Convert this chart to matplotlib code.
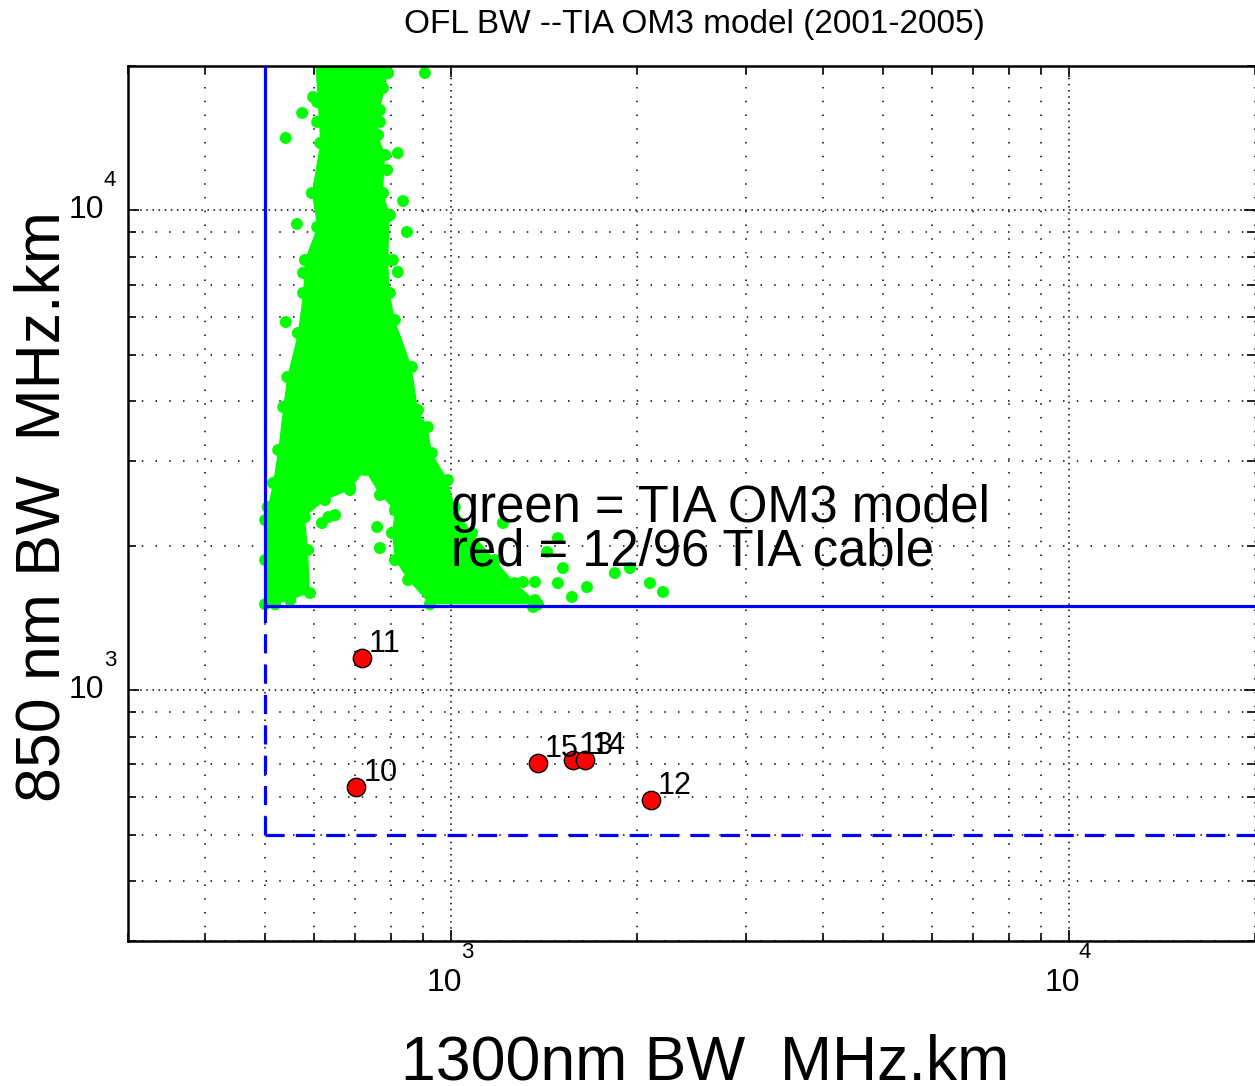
import numpy as np
import matplotlib.pyplot as plt

plt.rcParams['font.family'] = ['Liberation Sans', 'DejaVu Sans']

# TIA OM3 model cloud: outline of the dense core (1300nm BW, 850nm BW)
core_x = [500, 500, 500, 505, 515, 525, 535, 543, 565, 576, 580, 607, 595, 614, 602,
          802, 767, 762, 782, 776, 796, 791, 796, 811, 864, 884, 917, 931, 988, 1014,
          1081, 1178, 1269, 1367, 1382,
          924, 852, 811, 802, 811, 767, 725, 686, 625, 580, 587, 591, 549, 519]
core_y = [1510, 1867, 2262, 2408, 2702, 3167, 3891, 4494, 5551, 6727, 7881, 9236, 10870,
          13820, 21000,
          21000, 16190, 14360, 13050, 10870, 9780, 7881, 6727, 5909, 4716, 3836, 3535,
          3121, 2742, 2408, 2126, 1867, 1672, 1541, 1510,
          1510, 1696, 1867, 2126, 2373, 2551, 2875, 2613, 2490, 2295, 1959, 1594, 1541,
          1510]

# model points lying outside the core
green_x = [907, 791, 776, 598, 607, 574, 607, 767, 540, 820, 788, 836, 788, 563, 848,
           805, 820, 576, 540, 1213, 1489, 1430, 1517, 1489, 1569, 1659, 1841, 1947,
           2098, 2202, 1307, 1367, 924, 759, 767, 618, 633, 649, 686, 753, 842, 1357]
green_y = [19340, 19340, 17990, 17235, 16830, 15960, 15290, 15290, 14160, 13170, 12140,
           10460, 9690, 9370, 9016, 7881, 7440, 7410, 5852, 2230, 2075, 1941, 1797, 1672,
           1564, 1640, 1754, 1797, 1672, 1602, 1680, 1680, 1602, 2188, 1978, 2230, 2295,
           2317, 2651, 2875, 2075, 1490]

# 12/96 TIA cable
cable_id = ['11', '10', '15', '13', '14', '12']
cable_x = [717, 702, 1382, 1574, 1647, 2106]
cable_y = [1167, 628, 705, 715, 715, 590]

# spec limits
bw1300_min = 500
bw850_min = 1500
bw850_lo = 500

xlim = (300, 20000)
ylim = (300, 20000)
xdecades = [1e3, 1e4]
ydecades = [1e3, 1e4]

fig = plt.figure(figsize=(12.55, 10.86), dpi=100)
ax = fig.add_axes([128 / 1255, 1 - 941 / 1086, (1255 - 128) / 1255, (941 - 66) / 1086])
ax.set_xscale('log')
ax.set_yscale('log')

ax.fill(core_x, core_y, color='#00ff00', lw=0, zorder=2)
ax.scatter(core_x, core_y, s=74, c='#00ff00', edgecolors='none', zorder=2)
ax.scatter(green_x, green_y, s=74, c='#00ff00', edgecolors='none', zorder=2)

blue = '#0000ff'
ax.plot([bw1300_min, bw1300_min], [bw850_min, ylim[1] * 2], color=blue, lw=2.3, zorder=3)
ax.plot([bw1300_min, xlim[1] * 2], [bw850_min, bw850_min], color=blue, lw=2.3, zorder=3)
ax.plot([bw1300_min, bw1300_min], [bw850_lo, bw850_min], color=blue, lw=2.3,
        ls=(0, (6, 3.5)), zorder=3)
ax.plot([bw1300_min, xlim[1] * 2], [bw850_lo, bw850_lo], color=blue, lw=2.3,
        ls=(0, (6, 3.5)), zorder=3)

ax.scatter(cable_x, cable_y, s=175, c='#ff0000', edgecolors='k', linewidths=1, zorder=4)
for lab, x, y in zip(cable_id, cable_x, cable_y):
    ax.annotate(lab, (x, y), xytext=(7, 6), textcoords='offset pixels',
                fontsize=22, ha='left', va='baseline', zorder=5)

ax.text(1000, 2240, 'green = TIA OM3 model', fontsize=36.5, va='baseline', zorder=5)
ax.text(1000, 1820, 'red = 12/96 TIA cable', fontsize=36.5, va='baseline', zorder=5)

ax.set_xlim(xlim)
ax.set_ylim(ylim)

# matlab-ish dotted grid and inward ticks
ax.set_axisbelow(True)
ax.grid(True, which='major', color='k', lw=1.1, ls=(0, (1, 3)))
ax.grid(True, which='minor', color='k', lw=1.1, ls=(0, (1, 8)))
ax.tick_params(which='both', direction='in', top=True, right=True,
               labelbottom=False, labelleft=False, width=1.2, color='k')
ax.tick_params(which='major', length=8)
ax.tick_params(which='minor', length=6)
for s in ['left', 'bottom', 'top']:
    ax.spines[s].set_linewidth(1.8)
ax.spines['right'].set_visible(False)

# tick labels as 10 with raised exponent
for t in xdecades:
    ax.annotate('10', (t, 0), xycoords=('data', 'axes fraction'), xytext=(-7, -42),
                textcoords='offset pixels', ha='center', va='center', fontsize=23)
    ax.annotate('%d' % np.log10(t), (t, 0), xycoords=('data', 'axes fraction'),
                xytext=(16, -12), textcoords='offset pixels', ha='center', va='center',
                fontsize=16)
for t in ydecades:
    ax.annotate('10', (0, t), xycoords=('axes fraction', 'data'), xytext=(-24, 0),
                textcoords='offset pixels', ha='right', va='center', fontsize=23)
    ax.annotate('%d' % np.log10(t), (0, t), xycoords=('axes fraction', 'data'),
                xytext=(-24, 30), textcoords='offset pixels', ha='left', va='center',
                fontsize=16)

fig.text(694 / 1255, 1 - 25 / 1086, 'OFL BW --TIA OM3 model (2001-2005)',
         ha='center', va='center', fontsize=24)
fig.text(705 / 1255, 1 - 1080 / 1086, '1300nm BW  MHz.km', ha='center', va='baseline',
         fontsize=45)
fig.text(60 / 1255, 1 - 507 / 1086, '850 nm BW  MHz.km', rotation=90, rotation_mode='anchor',
         ha='center', va='baseline', fontsize=45)

fig.savefig('out.png', dpi=100)
